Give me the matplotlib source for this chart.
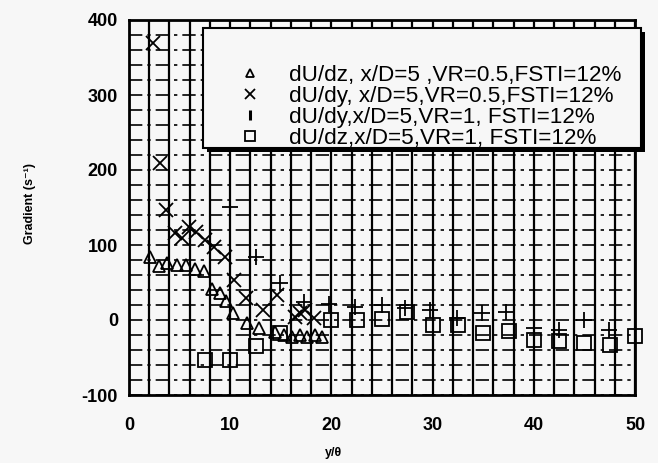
import matplotlib
matplotlib.use("Agg")
import matplotlib.pyplot as plt
from matplotlib.lines import Line2D
from matplotlib.patches import Rectangle
import numpy as np

# dU/dz, x/D=5, VR=0.5
tri_x = [2.1, 3.0, 3.8, 4.7, 5.6, 6.5, 7.4, 8.2, 9.0, 9.6, 10.3, 11.7, 12.8,
         14.4, 15.3, 16.1, 16.9, 17.6, 18.4, 19.1]
tri_y = [84, 72, 76, 73, 73, 68, 66, 42, 36, 25, 9, -4, -11,
         -16, -20, -22, -20, -22, -20, -22]

# dU/dy, x/D=5, VR=0.5
crs_x = [2.4, 3.1, 3.7, 4.5, 5.2, 5.9, 6.6, 7.5, 8.4, 9.5, 10.4, 11.6, 13.2,
         14.6, 16.4, 16.9, 17.4, 18.3]
crs_y = [369, 209, 147, 116, 109, 124, 118, 107, 98, 84, 53, 29, 13,
         33, 4, 9, 13, 3]

# dU/dy, x/D=5, VR=1
pls_x = [10.0, 12.5, 14.9, 17.3, 19.8, 22.3, 25.0, 27.3, 29.7, 32.4,
         34.9, 37.3, 40.0, 42.5, 45.0, 47.4]
pls_y = [151, 84, 49, 24, 22, 18, 20, 16, 14, 3,
         9, 11, -11, -13, 0, -13]

# dU/dz, x/D=5, VR=1
sq_x = [7.5, 10.0, 12.5, 14.9, 20.0, 22.5, 25.0, 27.5, 30.0, 32.5, 35.0,
        37.5, 40.0, 42.5, 45.0, 47.5, 50.0]
sq_y = [-53, -53, -34, -17, 0, 0, 2, 11, -7, -7, -17,
        -15, -27, -28, -30, -33, -21]

labels = ["dU/dz, x/D=5 ,VR=0.5,FSTI=12%",
          "dU/dy, x/D=5,VR=0.5,FSTI=12%",
          "dU/dy,x/D=5,VR=1, FSTI=12%",
          "dU/dz,x/D=5,VR=1, FSTI=12%"]

plt.rcParams['font.family'] = ['Liberation Sans', 'DejaVu Sans']
plt.rcParams['axes.unicode_minus'] = False
bg = '#f7f7f7'
W, H = 658, 463

fig = plt.figure(figsize=(W / 100, H / 100), dpi=100, facecolor=bg)
ax = fig.add_axes([129 / W, 1 - 395 / H, (635 - 129) / W, (395 - 20) / H])
ax.set_facecolor(bg)

ax.set_xlim(0, 50)
ax.set_ylim(-100, 400)
ax.set_xticks(np.arange(0, 51, 10))
ax.set_xticks(np.arange(0, 51, 2), minor=True)
ax.set_yticks(np.arange(-100, 401, 100))
ax.set_yticks(np.arange(-100, 401, 20), minor=True)

# solid vertical grid, broken horizontal grid
ax.grid(axis='x', which='both', color='black', linewidth=1.6, linestyle='-')
ax.grid(axis='y', which='both', color='black', linewidth=1.2,
        linestyle=(0, (8, 3, 2, 3)))
ax.set_axisbelow(True)

ax.tick_params(which='both', length=0)
ax.tick_params(axis='x', pad=16, labelsize=13)
ax.tick_params(axis='y', pad=8, labelsize=13)
for t in ax.get_xticklabels() + ax.get_yticklabels():
    t.set_fontweight('bold')

for s in ax.spines.values():
    s.set_linewidth(2.0)
    s.set_color('black')

mk = dict(linestyle='none', color='black', markerfacecolor='none',
          markeredgewidth=1.3)
ax.plot(tri_x, tri_y, marker='^', markersize=8, clip_on=False, **mk)
ax.plot(crs_x, crs_y, marker='x', markersize=10, clip_on=False, **mk)
ax.plot(pls_x, pls_y, marker='+', markersize=11, clip_on=False, **mk)
ax.plot(sq_x, sq_y, marker='s', markersize=10, clip_on=False, **mk)

# legend box with a solid drop shadow
bx0, by0, bx1, by1 = 203, 28, 641, 148
shadow = Rectangle((bx0 + 4, H - by1 - 4), bx1 - bx0, by1 - by0,
                   transform=None, facecolor='black', edgecolor='none', zorder=4)
box = Rectangle((bx0, H - by1), bx1 - bx0, by1 - by0, transform=None,
                facecolor=bg, edgecolor='black', linewidth=1.5, zorder=4.1)
fig.add_artist(shadow)
fig.add_artist(box)

handles = [
    Line2D([], [], marker='^', markersize=6, **mk),
    Line2D([], [], marker='x', markersize=7, **mk),
    Line2D([], [], marker='|', markersize=7, markeredgewidth=2.2,
           linestyle='none', color='black'),
    Line2D([], [], marker='s', markersize=7, **mk),
]
fs = 16.2
leg = fig.legend(handles, labels, loc='upper left',
                 bbox_to_anchor=(228 / W, 1 - 65 / H),
                 fontsize=fs, frameon=False, borderpad=0, borderaxespad=0,
                 labelspacing=0.0, handlelength=1.95, handletextpad=0.78)
leg.set_zorder(5)

fig.text(30 / W, 1 - 203 / H, 'Gradient (s⁻¹)', rotation=90,
         ha='center', va='center', fontsize=9, fontweight='bold')
fig.text(333 / W, 1 - 453 / H, 'y/θ', ha='center', va='center',
         fontsize=9, fontweight='bold')

fig.savefig('out.png', dpi=100, facecolor=bg)
